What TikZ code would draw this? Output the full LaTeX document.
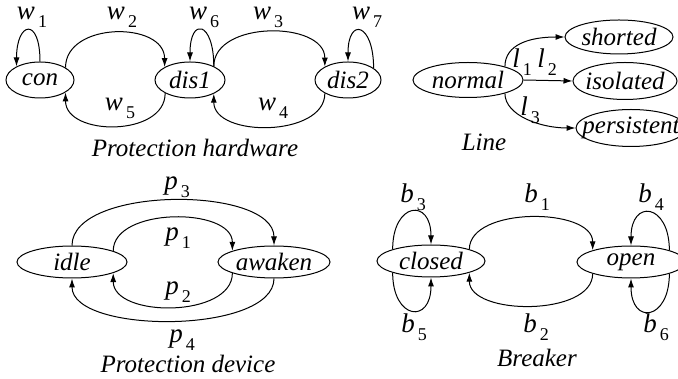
\documentclass[tikz,border=0pt]{standalone}
\usepackage{fontspec}
\setmainfont{Liberation Serif}
\usetikzlibrary{shapes.geometric,arrows.meta}
\newcommand{\diagfont}{\fontsize{12.5}{15}\selectfont}
\newcommand{\lab}[2]{{\fontsize{13.5}{15}\selectfont\textit{#1}}\kern1.5pt\raisebox{-0.7ex}{\fontsize{9}{10}\selectfont #2}}

\begin{document}
\begin{tikzpicture}[x=0.5pt,y=0.5pt,line width=0.5pt,
    state/.style={draw,ellipse,inner sep=0pt,minimum height=18pt,font=\diagfont\itshape,
      execute at begin node={\hbox to 0pt\bgroup\hss},execute at end node={\hss\egroup}},
    edge/.style={-{Latex[length=4.5pt,width=3pt]}},
    tag/.style={font=\diagfont,inner sep=1pt},
    title/.style={font=\diagfont\itshape}]
  \useasboundingbox (0,0) rectangle (678,379);

  % protection hardware
  \node[state,minimum width=34pt] (con) at (40,299) {con};
  \node[state,minimum width=35pt] (dis1) at (190,299) {dis1};
  \node[state,minimum width=33pt] (dis2) at (348,299) {dis2};
  \draw[edge] (con.north) .. controls +(0,45) and +(0,45) .. (con.150);
  \draw[edge] (con.26) .. controls +(0,46) and +(0,46) .. (dis1.153);
  \draw[edge] (dis1.208) .. controls +(0,-44) and +(0,-44) .. (con.-26);
  \draw[edge] (dis1.30) .. controls +(0,45) and +(0,45) .. (dis1.north);
  \draw[edge] (dis1.30) .. controls +(0,46) and +(0,46) .. (dis2.150);
  \draw[edge] (dis2.210) .. controls +(0,-44) and +(0,-44) .. (dis1.-30);
  \draw[edge] (dis2.25) .. controls +(0,45) and +(0,45) .. (dis2.north);
  \node[tag] (w1) at (32,362) {\lab{w}{1}};
  \node[tag] (w2) at (122,362) {\lab{w}{2}};
  \node[tag] (w6) at (204,362) {\lab{w}{6}};
  \node[tag] (w3) at (268,362) {\lab{w}{3}};
  \node[tag] (w7) at (367,362) {\lab{w}{7}};
  \node[tag] (w5) at (120,271) {\lab{w}{5}};
  \node[tag] (w4) at (273,271) {\lab{w}{4}};
  \node[title] (hw) at (195,231) {Protection hardware};

  % line
  \node[state,minimum width=55pt,minimum height=17.5pt] (normal) at (468,299) {normal};
  \node[state,minimum width=54pt,minimum height=17pt] (shorted) at (619,342) {shorted};
  \node[state,minimum width=52pt,minimum height=18.5pt] (isolated) at (625,298) {isolated};
  \node[state,minimum width=55pt,minimum height=18.5pt] (persistent) at (631,251) {persistent};
  \draw[edge] (normal.20) .. controls +(0,22) and +(-35,0) .. (shorted.west);
  \draw[edge] (normal.east) -- (isolated.west);
  \draw[edge] (normal.-20) .. controls +(0,-22) and +(-35,0) .. (persistent.west);
  \node[tag] (l1) at (522,317) {\lab{l}{1}};
  \node[tag] (l2) at (547,317) {\lab{l}{2}};
  \node[tag] (l3) at (530,269) {\lab{l}{3}};
  \node[title] (ln) at (484,237) {Line};

  % protection device
  \node[state,minimum width=55pt,minimum height=16pt] (idle) at (72,117) {idle};
  \node[state,minimum width=56pt,minimum height=16pt] (awaken) at (274,117) {awaken};
  \draw[edge] (idle.north) .. controls +(0,60) and +(0,60) .. (awaken.north);
  \draw[edge] (idle.15) .. controls +(0,44) and +(0,44) .. (awaken.165);
  \draw[edge] (awaken.195) .. controls +(0,-45) and +(0,-45) .. (idle.-15);
  \draw[edge] (awaken.south) .. controls +(0,-56) and +(0,-56) .. (idle.south);
  \node[tag] (p3) at (177,192) {\lab{p}{3}};
  \node[tag] (p1) at (178,141) {\lab{p}{1}};
  \node[tag] (p2) at (178,87) {\lab{p}{2}};
  \node[tag] (p4) at (182,39) {\lab{p}{4}};
  \node[title] (dev) at (188,15) {Protection device};

  % breaker
  \node[state,minimum width=54pt,minimum height=16pt] (closed) at (431,118) {closed};
  \node[state,minimum width=54pt,minimum height=16pt] (open) at (631,117) {open};
  \draw[edge] (closed.163) .. controls +(0,47) and +(0,47) .. (closed.north);
  \draw[edge] (closed.197) .. controls +(0,-47) and +(0,-47) .. (closed.south);
  \draw[edge] (closed.17) .. controls +(0,43) and +(0,43) .. (open.163);
  \draw[edge] (open.197) .. controls +(0,-43) and +(0,-43) .. (closed.-17);
  \draw[edge] (open.17) .. controls +(0,47) and +(0,47) .. (open.north);
  \draw[edge] (open.-17) .. controls +(0,-47) and +(0,-47) .. (open.south);
  \node[tag] (b3) at (413,182) {\lab{b}{3}};
  \node[tag] (b1) at (537,182) {\lab{b}{1}};
  \node[tag] (b4) at (651,182) {\lab{b}{4}};
  \node[tag] (b5) at (414,52) {\lab{b}{5}};
  \node[tag] (b2) at (536,52) {\lab{b}{2}};
  \node[tag] (b6) at (656,52) {\lab{b}{6}};
  \node[title] (brk) at (537,21) {Breaker};
\end{tikzpicture}
\end{document}
